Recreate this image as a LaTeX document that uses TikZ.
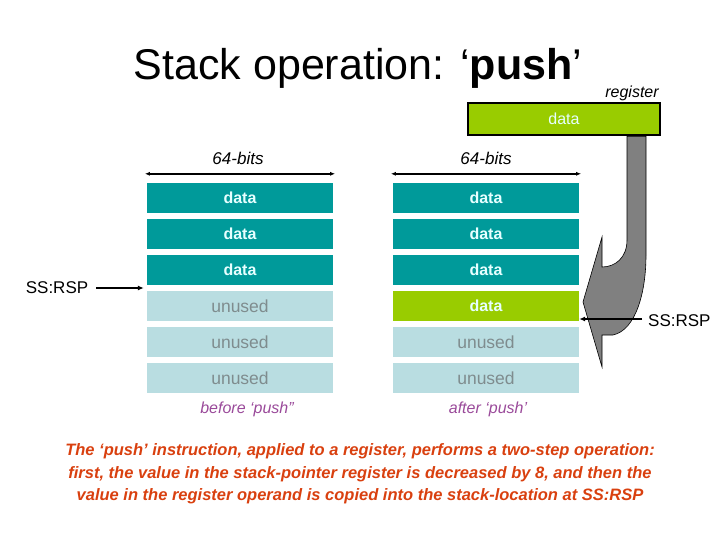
\documentclass[tikz,border=0pt]{standalone}
\usepackage{fontspec}
\setmainfont{Liberation Sans}
\usetikzlibrary{arrows.meta}
\definecolor{tealdata}{HTML}{009A9A}
\definecolor{paleunused}{HTML}{B9DDE1}
\definecolor{greendata}{HTML}{99CC00}
\definecolor{lighttext}{HTML}{E6FFFF}
\definecolor{greytext}{HTML}{7F8C8E}
\definecolor{captionpurple}{HTML}{9A4A9A}
\definecolor{noteorange}{HTML}{D9400F}
\definecolor{arrowgrey}{HTML}{808080}
\begin{document}
\begin{tikzpicture}[x=1pt,y=-1pt,
	every node/.style={inner sep=0pt},
	cell/.style={minimum width=186pt,minimum height=30pt,font=\fontsize{16}{18}\selectfont},
	used/.style={cell,fill=tealdata,text=lighttext,font=\fontsize{16}{18}\selectfont\bfseries},
	unused/.style={cell,fill=paleunused,text=greytext,font=\fontsize{17.5}{18}\selectfont},
	pushed/.style={cell,fill=greendata,text=lighttext,font=\fontsize{16}{18}\selectfont\bfseries},
	label/.style={font=\fontsize{17}{18}\selectfont},
	caption/.style={font=\fontsize{16}{18}\selectfont\itshape,text=captionpurple},
	ptr/.style={-{Latex[length=6pt,width=5pt]},line width=1.2pt}]
	\useasboundingbox (0,0) rectangle (720,540);
	% title
	\node (title) at (358,68)
		{\fontsize{43}{48}\selectfont Stack operation: ‘\textbf{push}’};
	% register
	\node[font=\fontsize{16}{18}\selectfont\itshape] (regname) at (632,93) {register};
	\node[draw,line width=2.5pt,fill=greendata,text=lighttext,minimum width=192pt,minimum height=32pt,
		font=\fontsize{16}{18}\selectfont] (reg) at (564,119) {data};
	% before
	\node[used] (l1) at (240,198) {data};
	\node[used] (l2) at (240,234) {data};
	\node[used] (l3) at (240,270) {data};
	\node[unused] (l4) at (240,306) {unused};
	\node[unused] (l5) at (240,342) {unused};
	\node[unused] (l6) at (240,378) {unused};
	% after
	\node[used] (r1) at (486,198) {data};
	\node[used] (r2) at (486,234) {data};
	\node[used] (r3) at (486,270) {data};
	\node[pushed] (r4) at (486,306) {data};
	\node[unused] (r5) at (486,342) {unused};
	\node[unused] (r6) at (486,378) {unused};
	% widths
	\node[font=\fontsize{17}{18}\selectfont\itshape] (lw) at (238,158) {64-bits};
	\node[font=\fontsize{17}{18}\selectfont\itshape] (rw) at (486,158) {64-bits};
	\draw[{Latex[length=5pt,width=4pt]}-{Latex[length=5pt,width=4pt]},line width=1.5pt]
		([xshift=-2pt,yshift=9pt]l1.north west) -- ([xshift=2pt,yshift=9pt]l1.north east);
	\draw[{Latex[length=5pt,width=4pt]}-{Latex[length=5pt,width=4pt]},line width=1.5pt]
		([xshift=-2pt,yshift=9pt]r1.north west) -- ([xshift=2pt,yshift=9pt]r1.north east);
	\node[caption] (lcap) at (247,409) {before ‘push”};
	\node[caption] (rcap) at (488,409) {after ‘push’};
	% copy arrow
	\draw[fill=arrowgrey,line width=0.6pt]
		(reg.south -| 627,0) -- (627,240) .. controls (627,258) and (615,267) .. (602,267)
		-- (602,237) -- (583,302) -- (602,367) -- (602,335) -- (613,335)
		.. controls (636,330) and (646,292) .. (646,255) -- (reg.south -| 646,0) -- cycle;
	% stack pointers
	\node[label] (rspold) at (57,288) {SS:RSP};
	\draw[ptr] ([xshift=8pt]rspold.east) -- ([xshift=-3pt]rspold.east -| l3.west);
	\node[label,anchor=west] (rspnew) at (648,321) {SS:RSP};
	\draw[ptr] ([xshift=-6pt,yshift=2pt]rspnew.west) -- ([yshift=2pt]rspnew.west -| r4.east);
	% note
	\node[font=\fontsize{16.5}{22.5}\selectfont\bfseries\itshape,text=noteorange,align=center] (note) at (360,474)
		{The ‘push’ instruction, applied to a register, performs a two-step operation:\\
		first, the value in the stack-pointer register is decreased by 8, and then the\\
		value in the register operand is copied into the stack-location at SS:RSP};
\end{tikzpicture}
\end{document}
